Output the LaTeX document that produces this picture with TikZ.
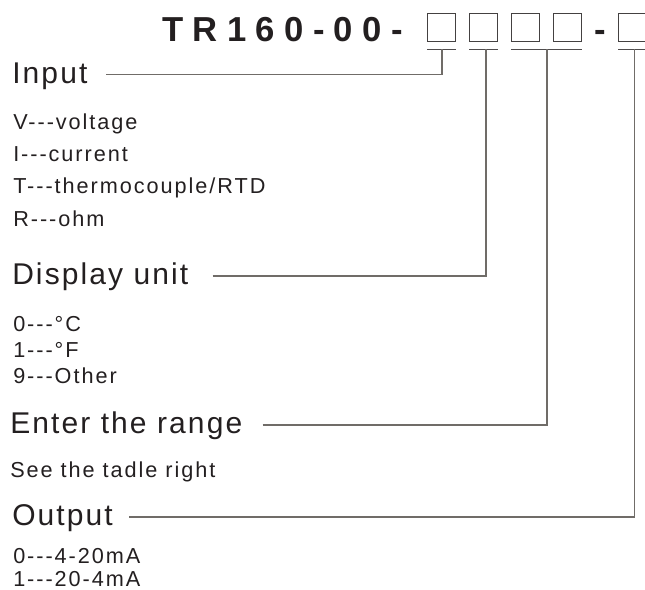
\documentclass[tikz,border=0pt]{standalone}
\usepackage{fontspec}
\setmainfont{Liberation Sans}
\newfontfamily\titlefont[LetterSpace=27]{Liberation Sans}
\newfontfamily\headfont[LetterSpace=7]{Liberation Sans}
\newfontfamily\itemfont[LetterSpace=9]{Liberation Sans}
\definecolor{inkc}{RGB}{35,31,32}
\definecolor{leadc}{RGB}{112,108,104}
\tikzset{
  heading/.style={anchor=base west, inner sep=0pt, text=inkc, font=\headfont\fontsize{22.5}{26}\selectfont},
  option/.style={anchor=base west, inner sep=0pt, text=inkc, font=\itemfont\fontsize{16.25}{19}\selectfont},
  codebox/.style={draw=inkc!85, line width=1pt, minimum size=21pt, inner sep=0pt},
  uline/.style={draw=inkc!80, line width=1pt},
  lead/.style={draw=leadc, line width=1.2pt}
}
\begin{document}
\begin{tikzpicture}[x=0.75pt, y=-0.75pt]
        \useasboundingbox (0,0) rectangle (645,589);

        % Order code
        \node[anchor=base west, inner sep=0pt, text=inkc, font=\titlefont\bfseries\fontsize{26}{30}\selectfont] (code) at (162,41) {TR160-00-};
        \node[codebox] (b1) at (441.5,27.2) {};
        \node[codebox] (b2) at (483.8,27.2) {};
        \node[codebox] (b3) at (525.5,27.2) {};
        \node[codebox] (b4) at (567.5,27.2) {};
        \node[anchor=base, inner sep=0pt, text=inkc, font=\bfseries\fontsize{26}{30}\selectfont] (dash) at (600,41) {-};
        \node[codebox] (b5) at (632.5,27.2) {};

        % Underlines below the boxes
        \draw[uline] (427,49.3) -- (456,49.3);
        \draw[uline] (469,49.3) -- (498,49.3);
        \draw[uline] (511,49.3) -- (582,49.3);
        \draw[uline] (618,49.3) -- (647,49.3);
        \coordinate (u1) at (442,49.3);
        \coordinate (u2) at (485.7,49.3);
        \coordinate (u3) at (547,49.3);
        \coordinate (u4) at (634.5,49.3);

        % Input
        \node[heading] (input) at (12,83) {Input};
        \foreach \y/\t [count=\i] in {129/{V---voltage}, 161/{I---current}, 193/{T---thermocouple/RTD}, 226/{R---ohm}}
            \node[option] (in\i) at (13,\y) {\t};

        % Display unit
        \node[heading] (unit) at (12,284.7) {Display unit};
        \foreach \y/\t [count=\i] in {331/{0---°C}, 357/{1---°F}, 383/{9---Other}}
            \node[option] (du\i) at (13,\y) {\t};

        % Range
        \node[heading] (range) at (10,433.7) {Enter the range};
        \node[option] (see) at (10,477) {See the tadle right};

        % Output
        \node[heading] (output) at (12,525.7) {Output};
        \foreach \y/\t [count=\i] in {563/{0---4-20mA}, 586/{1---20-4mA}}
            \node[option] (out\i) at (13,\y) {\t};

        % Leaders to the code boxes
        \draw[lead] ([xshift=14pt,yshift=6.5pt]input.base east) -| (u1);
        \draw[lead] ([xshift=18pt,yshift=6.5pt]unit.base east) -| (u2);
        \draw[lead] ([xshift=15pt,yshift=6.5pt]range.base east) -| (u3);
        \draw[lead] ([xshift=12pt,yshift=6.5pt]output.base east) -| (u4);
    \end{tikzpicture}
\end{document}
